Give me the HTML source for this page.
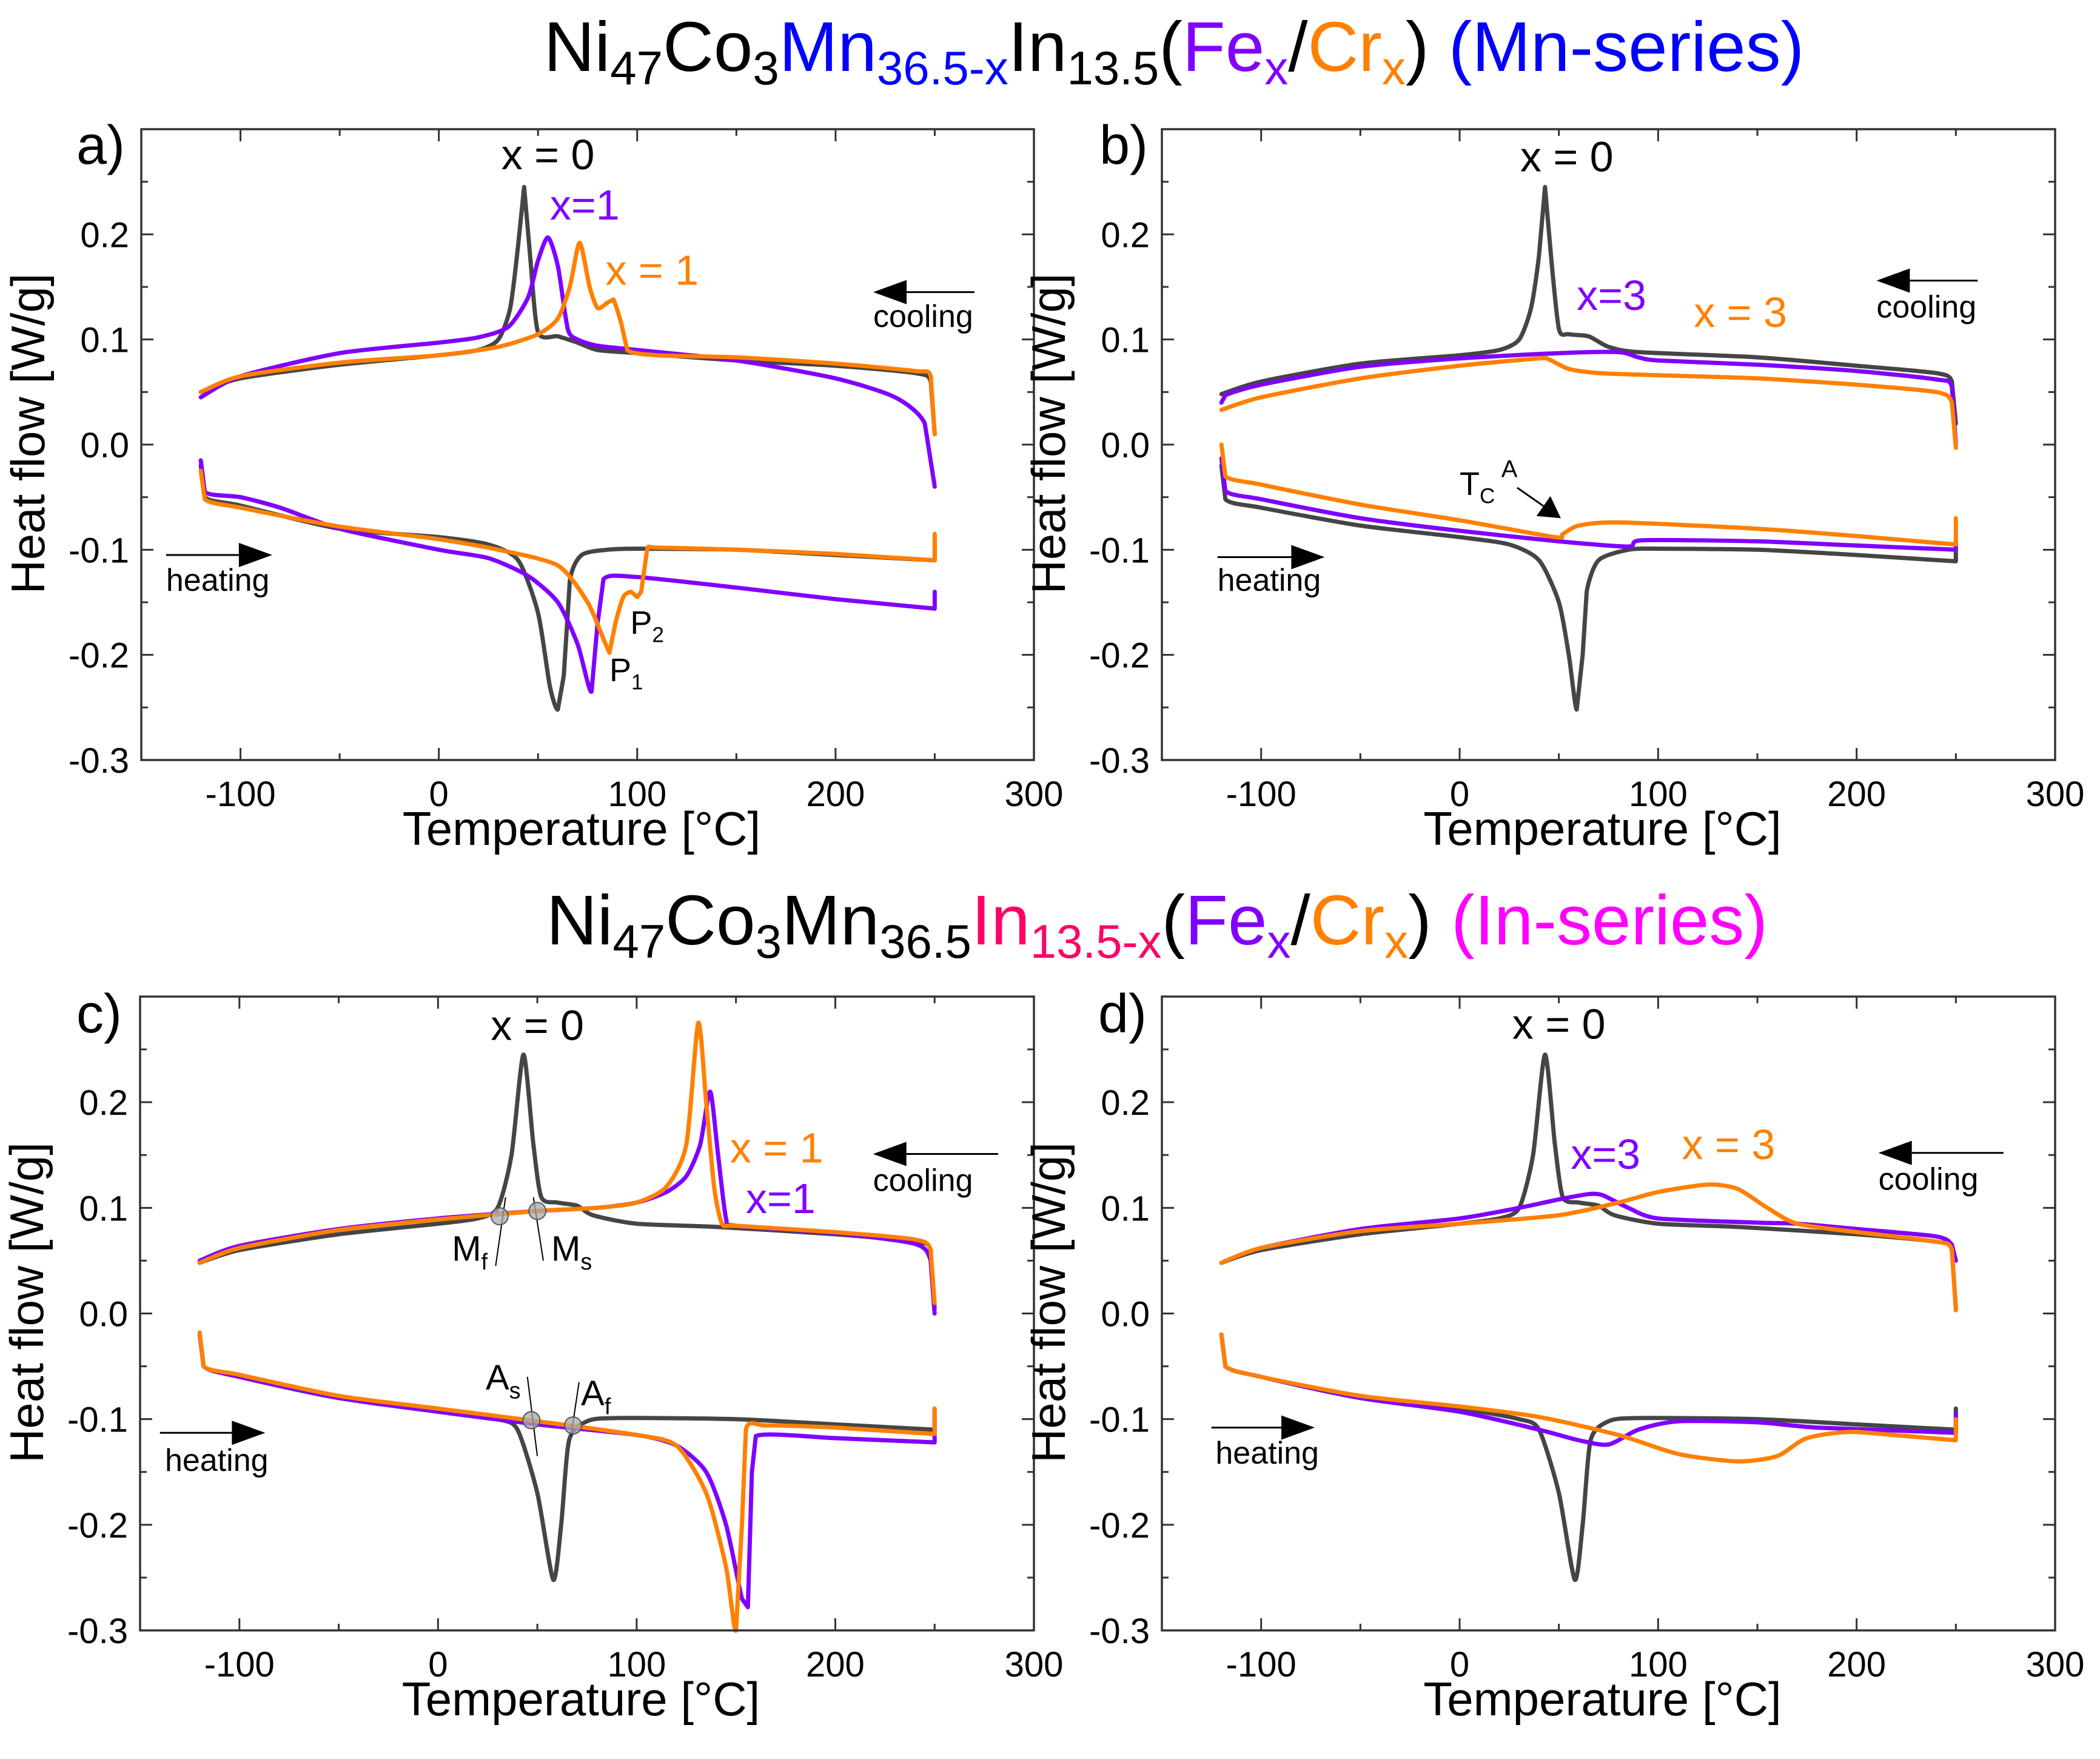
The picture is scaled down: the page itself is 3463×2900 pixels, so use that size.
<!DOCTYPE html>
<html><head><meta charset="utf-8">
<style>
html,body{margin:0;padding:0;background:#fff;}
svg{display:block;font-family:"Liberation Sans",Arial,sans-serif;}
</style></head>
<body>
<svg id="fig" width="3463" height="2900" viewBox="0 0 3463 2900" xmlns="http://www.w3.org/2000/svg">
<rect width="3463" height="2900" fill="#fff"/>
<text x="1936" y="117" font-size="116" text-anchor="middle" fill="#000">Ni<tspan font-size="78" dy="22">47</tspan><tspan dy="-22">Co</tspan><tspan font-size="78" dy="22">3</tspan><tspan dy="-22" fill="#0000ff">Mn</tspan><tspan font-size="78" dy="22" fill="#0000ff">36.5-x</tspan><tspan dy="-22">In</tspan><tspan font-size="78" dy="22">13.5</tspan><tspan dy="-22">(</tspan><tspan fill="#8000ff">Fe</tspan><tspan font-size="78" dy="22" fill="#8000ff">x</tspan><tspan dy="-22">/</tspan><tspan fill="#ff8000">Cr</tspan><tspan font-size="78" dy="22" fill="#ff8000">x</tspan><tspan dy="-22">) </tspan><tspan fill="#0000ff">(Mn-series)</tspan></text>
<text x="1908" y="1557" font-size="116" text-anchor="middle" fill="#000">Ni<tspan font-size="78" dy="22">47</tspan><tspan dy="-22">Co</tspan><tspan font-size="78" dy="22">3</tspan><tspan dy="-22">Mn</tspan><tspan font-size="78" dy="22">36.5</tspan><tspan dy="-22" fill="#ff0066">In</tspan><tspan font-size="78" dy="22" fill="#ff0066">13.5-x</tspan><tspan dy="-22">(</tspan><tspan fill="#8000ff">Fe</tspan><tspan font-size="78" dy="22" fill="#8000ff">x</tspan><tspan dy="-22">/</tspan><tspan fill="#ff8000">Cr</tspan><tspan font-size="78" dy="22" fill="#ff8000">x</tspan><tspan dy="-22">) </tspan><tspan fill="#ff00ff">(In-series)</tspan></text>
</svg>
<script>
// ---- data (Temperature [°C], Heat flow [W/g]) ----
const xTicks = [-100, 0, 100, 200, 300];
const yTicks = [-0.3, -0.2, -0.1, 0.0, 0.1, 0.2];
const yTickLabels = ["-0.3", "-0.2", "-0.1", "0.0", "0.1", "0.2"];

const a_cool_x0 = [[-120,0.05],[-100,0.063],[-50,0.076],[0,0.085],[20,0.09],[30,0.1],[36,0.13],[40,0.19],[43,0.245],[46,0.18],[50,0.107],[60,0.103],[70,0.097],[80,0.09],[100,0.087],[150,0.08],[200,0.075],[240,0.068],[248,0.06],[250,0.01]];
const a_cool_fe = [[-120,0.045],[-100,0.065],[-50,0.087],[0,0.097],[20,0.102],[35,0.112],[45,0.14],[50,0.175],[55,0.197],[60,0.17],[65,0.11],[70,0.1],[80,0.094],[100,0.09],[150,0.08],[200,0.063],[230,0.045],[245,0.02],[250,-0.04]];
const a_cool_cr = [[-120,0.05],[-100,0.065],[-50,0.078],[0,0.085],[30,0.093],[50,0.105],[60,0.12],[66,0.15],[71,0.192],[76,0.15],[80,0.13],[85,0.135],[88,0.138],[92,0.115],[95,0.09],[110,0.085],[150,0.083],[200,0.077],[240,0.07],[248,0.065],[250,0.01]];
const a_heat_x0 = [[-120,-0.02],[-118,-0.05],[-100,-0.058],[-50,-0.08],[0,-0.088],[25,-0.095],[40,-0.11],[50,-0.16],[56,-0.23],[60,-0.252],[63,-0.22],[66,-0.13],[72,-0.105],[85,-0.1],[100,-0.099],[150,-0.1],[200,-0.105],[250,-0.11],[250,-0.09]];
const a_heat_fe = [[-120,-0.015],[-118,-0.045],[-100,-0.05],[-80,-0.06],[-50,-0.08],[0,-0.1],[25,-0.108],[45,-0.125],[60,-0.15],[70,-0.19],[77,-0.235],[80,-0.17],[83,-0.128],[100,-0.126],[150,-0.136],[200,-0.147],[250,-0.156],[250,-0.14]];
const a_heat_cr = [[-120,-0.025],[-118,-0.052],[-100,-0.06],[-50,-0.078],[0,-0.09],[30,-0.1],[60,-0.115],[75,-0.15],[83,-0.185],[86,-0.198],[89,-0.17],[93,-0.145],[97,-0.14],[100,-0.145],[102,-0.14],[105,-0.1],[110,-0.098],[150,-0.1],[200,-0.104],[250,-0.11],[250,-0.085]];

const b_cool_x0 = [[-120,0.048],[-100,0.06],[-50,0.077],[0,0.085],[20,0.09],[30,0.1],[36,0.13],[40,0.18],[43,0.245],[46,0.18],[50,0.11],[55,0.105],[65,0.103],[75,0.093],[90,0.088],[150,0.083],[200,0.075],[240,0.068],[248,0.06],[250,0.02]];
const b_cool_fe = [[-120,0.04],[-118,0.047],[-100,0.057],[-50,0.074],[0,0.082],[50,0.087],[80,0.088],[90,0.083],[100,0.08],[150,0.076],[200,0.07],[240,0.062],[248,0.055],[250,0.0]];
const b_cool_cr = [[-120,0.033],[-100,0.045],[-50,0.063],[0,0.075],[40,0.082],[45,0.081],[55,0.072],[70,0.068],[100,0.066],[150,0.063],[200,0.057],[240,0.05],[248,0.04],[250,-0.003]];
const b_heat_x0 = [[-120,-0.02],[-118,-0.052],[-100,-0.06],[-50,-0.077],[0,-0.088],[25,-0.095],[40,-0.11],[50,-0.15],[55,-0.2],[59,-0.252],[62,-0.2],[64,-0.14],[70,-0.11],[85,-0.1],[100,-0.099],[150,-0.1],[200,-0.105],[250,-0.111],[250,-0.1]];
const b_heat_fe = [[-120,-0.013],[-118,-0.044],[-100,-0.052],[-50,-0.07],[0,-0.082],[50,-0.092],[85,-0.097],[92,-0.091],[150,-0.092],[200,-0.096],[250,-0.1],[250,-0.092]];
const b_heat_cr = [[-120,0.0],[-118,-0.03],[-100,-0.038],[-50,-0.057],[0,-0.072],[48,-0.088],[52,-0.085],[60,-0.077],[80,-0.074],[150,-0.08],[200,-0.087],[250,-0.095],[250,-0.07]];

const c_cool_x0 = [[-120,0.048],[-100,0.06],[-50,0.075],[0,0.085],[20,0.09],[30,0.1],[37,0.15],[43,0.245],[48,0.16],[52,0.11],[60,0.105],[70,0.102],[78,0.093],[100,0.085],[140,0.082],[200,0.075],[240,0.068],[248,0.06],[250,0.005]];
const c_cool_fe = [[-120,0.05],[-100,0.064],[-50,0.08],[0,0.09],[50,0.097],[80,0.1],[100,0.105],[115,0.115],[125,0.13],[132,0.16],[137,0.21],[141,0.15],[145,0.09],[150,0.083],[200,0.076],[240,0.066],[248,0.05],[250,0.0]];
const c_cool_cr = [[-120,0.048],[-100,0.062],[-50,0.079],[0,0.089],[50,0.097],[80,0.1],[100,0.105],[115,0.12],[125,0.16],[131,0.275],[135,0.2],[139,0.12],[143,0.085],[150,0.083],[200,0.077],[240,0.07],[248,0.06],[250,0.01]];
const c_heat_x0 = [[-120,-0.02],[-118,-0.05],[-100,-0.06],[-50,-0.08],[0,-0.09],[30,-0.1],[40,-0.11],[50,-0.17],[58,-0.252],[62,-0.2],[66,-0.12],[75,-0.102],[90,-0.099],[150,-0.1],[200,-0.105],[250,-0.11],[250,-0.09]];
const c_heat_fe = [[-120,-0.02],[-118,-0.05],[-100,-0.06],[-50,-0.08],[0,-0.093],[50,-0.105],[100,-0.115],[120,-0.125],[135,-0.15],[145,-0.2],[153,-0.27],[156,-0.278],[158,-0.15],[160,-0.116],[200,-0.118],[250,-0.122],[250,-0.1]];
const c_heat_cr = [[-120,-0.018],[-118,-0.05],[-100,-0.058],[-50,-0.078],[0,-0.09],[50,-0.102],[100,-0.115],[120,-0.125],[135,-0.17],[145,-0.24],[150,-0.3],[153,-0.2],[155,-0.11],[165,-0.106],[200,-0.108],[250,-0.114],[250,-0.09]];

const d_cool_x0 = c_cool_x0;
const d_cool_fe = [[-120,0.048],[-100,0.062],[-50,0.08],[0,0.09],[30,0.1],[50,0.108],[65,0.113],[72,0.112],[85,0.1],[100,0.09],[150,0.086],[170,0.085],[200,0.08],[240,0.073],[248,0.065],[250,0.05]];
const d_cool_cr = [[-120,0.048],[-100,0.062],[-50,0.078],[0,0.085],[50,0.093],[80,0.105],[100,0.115],[125,0.122],[140,0.118],[155,0.1],[170,0.085],[200,0.077],[240,0.068],[248,0.06],[250,0.003]];
const d_heat_x0 = c_heat_x0;
const d_heat_fe = [[-120,-0.02],[-118,-0.05],[-100,-0.06],[-50,-0.08],[0,-0.093],[40,-0.11],[60,-0.12],[75,-0.124],[90,-0.11],[110,-0.102],[150,-0.103],[180,-0.108],[250,-0.113],[250,-0.095]];
const d_heat_cr = [[-120,-0.02],[-118,-0.05],[-100,-0.06],[-50,-0.078],[0,-0.088],[40,-0.098],[80,-0.115],[110,-0.133],[140,-0.14],[160,-0.135],[175,-0.118],[200,-0.112],[250,-0.12],[250,-0.1]];

const COL = {x0:"#454545", fe:"#8000ff", cr:"#ff8000"};
const NS = "http://www.w3.org/2000/svg";
const svg = document.getElementById("fig");

function el(tag, attrs, parent){
  const e = document.createElementNS(NS, tag);
  for (const k in attrs) e.setAttribute(k, attrs[k]);
  (parent||svg).appendChild(e);
  return e;
}

const panels = [
  {id:"a", x0:233, x1:1705, y0:213, y1:1253, series:[["x0",a_cool_x0],["x0",a_heat_x0],["fe",a_cool_fe],["fe",a_heat_fe],["cr",a_cool_cr],["cr",a_heat_cr]]},
  {id:"b", x0:1916, x1:3389, y0:213, y1:1253, series:[["x0",b_cool_x0],["x0",b_heat_x0],["fe",b_cool_fe],["fe",b_heat_fe],["cr",b_cool_cr],["cr",b_heat_cr]]},
  {id:"c", x0:231, x1:1705, y0:1643, y1:2688, series:[["x0",c_cool_x0],["x0",c_heat_x0],["fe",c_cool_fe],["fe",c_heat_fe],["cr",c_cool_cr],["cr",c_heat_cr]]},
  {id:"d", x0:1916, x1:3389, y0:1643, y1:2688, series:[["x0",d_cool_x0],["x0",d_heat_x0],["fe",d_cool_fe],["fe",d_heat_fe],["cr",d_cool_cr],["cr",d_heat_cr]]}
];

function mkScales(p){
  return {
    sx: T => p.x0 + (T + 150) / 450 * (p.x1 - p.x0),
    sy: v => p.y1 - (v + 0.3) / 0.6 * (p.y1 - p.y0)
  };
}

// smooth path; short/vertical segments drawn straight to avoid hooks
function smoothPath(pts){
  let d = "M" + pts[0][0].toFixed(1) + "," + pts[0][1].toFixed(1);
  const k = 0.12;
  for (let i = 0; i < pts.length - 1; i++) {
    const p0 = pts[Math.max(0, i - 1)], p1 = pts[i], p2 = pts[i + 1], p3 = pts[Math.min(pts.length - 1, i + 2)];
    if (Math.abs(p2[0] - p1[0]) < 10 || Math.abs(p3[0] - p2[0]) < 1 || Math.abs(p1[0] - p0[0]) < 1 && i > 0) {
      d += " L" + p2[0].toFixed(1) + "," + p2[1].toFixed(1);
      continue;
    }
    const c1x = p1[0] + (p2[0] - p0[0]) * k, c1y = p1[1] + (p2[1] - p0[1]) * k;
    const c2x = p2[0] - (p3[0] - p1[0]) * k, c2y = p2[1] - (p3[1] - p1[1]) * k;
    d += " C" + c1x.toFixed(1) + "," + c1y.toFixed(1) + " " + c2x.toFixed(1) + "," + c2y.toFixed(1) + " " + p2[0].toFixed(1) + "," + p2[1].toFixed(1);
  }
  return d;
}

function txt(g, x, y, s, size, fill, anchor, name){
  const t = el("text", {x:x, y:y, "font-size":size, fill:fill||"#000", "text-anchor":anchor||"start"}, g);
  
  
  t.textContent = s;
  return t;
}
function arrow(g, xa, ya, xb, yb, name, head){
  const grp = el("g", {}, g);
  
  
  const ang = Math.atan2(yb - ya, xb - xa);
  const h = head || 80, w = 20;
  const bx = xb - h * Math.cos(ang), by = yb - h * Math.sin(ang);
  el("line", {x1:xa, y1:ya, x2:bx, y2:by, stroke:"#000", "stroke-width":3}, grp);
  const px = -Math.sin(ang) * w, py = Math.cos(ang) * w;
  el("polygon", {points:`${xb},${yb} ${bx+px},${by+py} ${bx-px},${by-py}`, fill:"#000"}, grp);
}

panels.forEach(p => {
  const {sx, sy} = mkScales(p);
  const g = el("g", {});
  
  
  const tg = el("g", {stroke:"#333", "stroke-width":3}, g);
  
  
  for (let T = -150; T <= 300; T += 50) {
    const L = (T % 100 === 0) ? 20 : 11;
    const X = sx(T);
    el("line", {x1:X, y1:p.y1, x2:X, y2:p.y1 - L}, tg);
    el("line", {x1:X, y1:p.y0, x2:X, y2:p.y0 + L}, tg);
  }
  for (let i = -6; i <= 6; i++) {
    const v = i * 0.05;
    const L = (i % 2 === 0) ? 20 : 11;
    const Y = sy(v);
    el("line", {x1:p.x0, y1:Y, x2:p.x0 + L, y2:Y}, tg);
    el("line", {x1:p.x1, y1:Y, x2:p.x1 - L, y2:Y}, tg);
  }
  xTicks.forEach(T => {
    txt(g, sx(T), p.y1 + 76, String(T), 58, "#000", "middle", "x-tick-label");
  });
  yTicks.forEach((v, i) => {
    txt(g, p.x0 - 20, sy(v) + 21, yTickLabels[i], 58, "#000", "end", "y-tick-label");
  });
  txt(g, (p.x0 + p.x1) / 2 - 10, p.y1 + 140, "Temperature [\u00B0C]", 78, "#000", "middle", "x-axis-title");
  const yt = txt(g, 0, 0, "Heat flow [W/g]", 78, "#000", "middle", "y-axis-title");
  const yc = (p.y0 + p.y1) / 2 - 18;
  const xc = p.x0 - 160;
  yt.setAttribute("transform", `translate(${xc},${yc}) rotate(-90)`);
  p.series.forEach(([k, data], idx) => {
    const pts = data.map(pt => [sx(pt[0]), sy(pt[1])]);
    const path = el("path", {d:smoothPath(pts), fill:"none", stroke:COL[k], "stroke-width":7, "stroke-linejoin":"round", "stroke-linecap":"round"}, g);
    
    
  });
  const fr = el("rect", {x:p.x0, y:p.y0, width:p.x1 - p.x0, height:p.y1 - p.y0, fill:"none", stroke:"#333", "stroke-width":3.5}, g);
  
  
  p.g = g; p.sx = sx; p.sy = sy;
});

function ann(p, T, v, s, size, fill, anchor, name){ return txt(p.g, p.sx(T), p.sy(v), s, size, fill, anchor, name); }
function subText(p, T, v, main, sub, size, name, sup){
  const t = ann(p, T, v, main, size, "#000", "start", name);
  const ts = document.createElementNS(NS, "tspan");
  ts.setAttribute("font-size", size * 0.65);
  ts.setAttribute("dy", sup ? -size * 0.5 : size * 0.25);
  ts.textContent = sub;
  t.appendChild(ts);
  return t;
}
const [pa, pb, pc, pd] = panels;
txt(pa.g, 126, 270, "a)", 90, "#000", "start", "panel-label-a");
txt(pb.g, 1813, 270, "b)", 90, "#000", "start", "panel-label-b");
txt(pc.g, 126, 1702, "c)", 90, "#000", "start", "panel-label-c");
txt(pd.g, 1811, 1702, "d)", 90, "#000", "start", "panel-label-d");

ann(pa, 55, 0.262, "x = 0", 70, "#000", "middle", "label-x0");
ann(pa, 56, 0.214, "x=1", 70, COL.fe, "start", "label-fe-x1");
ann(pa, 84, 0.152, "x = 1", 70, COL.cr, "start", "label-cr-x1");
ann(pa, 219, 0.112, "cooling", 52, "#000", "start", "label-cooling");
arrow(pa.g, pa.sx(270), pa.sy(0.145), pa.sx(219), pa.sy(0.145), "cooling-arrow", 55);
ann(pa, -137.5, -0.139, "heating", 52, "#000", "start", "label-heating");
arrow(pa.g, pa.sx(-137.5), pa.sy(-0.105), pa.sx(-84), pa.sy(-0.105), "heating-arrow", 55);
subText(pa, 96.5, -0.18, "P", "2", 54, "label-p2");
subText(pa, 86, -0.225, "P", "1", 54, "label-p1");

ann(pb, 54, 0.26, "x = 0", 70, "#000", "middle", "label-x0");
ann(pb, 59, 0.128, "x=3", 70, COL.fe, "start", "label-fe-x3");
ann(pb, 118, 0.112, "x = 3", 70, COL.cr, "start", "label-cr-x3");
ann(pb, 210, 0.121, "cooling", 52, "#000", "start", "label-cooling");
arrow(pb.g, pb.sx(261), pb.sy(0.156), pb.sx(210), pb.sy(0.156), "cooling-arrow", 55);
ann(pb, -122, -0.139, "heating", 52, "#000", "start", "label-heating");
arrow(pb.g, pb.sx(-122), pb.sy(-0.107), pb.sx(-68), pb.sy(-0.107), "heating-arrow", 55);
subText(pb, 0, -0.048, "T", "C", 54, "label-tc");
ann(pb, 21, -0.031, "A", 40, "#000", "start", "label-tc-sup");
arrow(pb.g, pb.sx(29), pb.sy(-0.041), pb.sx(51), pb.sy(-0.07), "tc-arrow", 35);

ann(pc, 50, 0.259, "x = 0", 70, "#000", "middle", "label-x0");
ann(pc, 147, 0.143, "x = 1", 70, COL.cr, "start", "label-cr-x1");
ann(pc, 155, 0.095, "x=1", 70, COL.fe, "start", "label-fe-x1");
ann(pc, 219, 0.116, "cooling", 52, "#000", "start", "label-cooling");
arrow(pc.g, pc.sx(282), pc.sy(0.151), pc.sx(219), pc.sy(0.151), "cooling-arrow", 55);
ann(pc, -137.5, -0.149, "heating", 52, "#000", "start", "label-heating");
arrow(pc.g, pc.sx(-140), pc.sy(-0.113), pc.sx(-87), pc.sy(-0.113), "heating-arrow", 55);
const marks = [
  ["Mf", 31, 0.092, [34,0.11,29,0.045], 7, 0.05, "M", "f"],
  ["Ms", 50, 0.097, [48,0.11,53,0.05], 57, 0.05, "M", "s"],
  ["As", 47, -0.101, [45,-0.06,50,-0.135], 24, -0.072, "A", "s"],
  ["Af", 68, -0.106, [71,-0.065,67,-0.115], 72, -0.087, "A", "f"]
];
marks.forEach(m => {
  const l = el("line", {x1:pc.sx(m[3][0]), y1:pc.sy(m[3][1]), x2:pc.sx(m[3][2]), y2:pc.sy(m[3][3]), stroke:"#000", "stroke-width":2}, pc.g);
  
  
  const c = el("circle", {cx:pc.sx(m[1]), cy:pc.sy(m[2]), r:14, fill:"rgba(170,170,170,0.75)", stroke:"#555", "stroke-width":2}, pc.g);
  
  
  subText(pc, m[4], m[5], m[6], m[7], 58, "label-" + m[0]);
});

ann(pd, 50, 0.26, "x = 0", 70, "#000", "middle", "label-x0");
ann(pd, 56, 0.137, "x=3", 70, COL.fe, "start", "label-fe-x3");
ann(pd, 112, 0.146, "x = 3", 70, COL.cr, "start", "label-cr-x3");
ann(pd, 211, 0.117, "cooling", 52, "#000", "start", "label-cooling");
arrow(pd.g, pd.sx(274), pd.sy(0.152), pd.sx(211), pd.sy(0.152), "cooling-arrow", 55);
ann(pd, -123, -0.142, "heating", 52, "#000", "start", "label-heating");
arrow(pd.g, pd.sx(-125), pd.sy(-0.108), pd.sx(-73), pd.sy(-0.108), "heating-arrow", 55);
</script>
</body></html>
